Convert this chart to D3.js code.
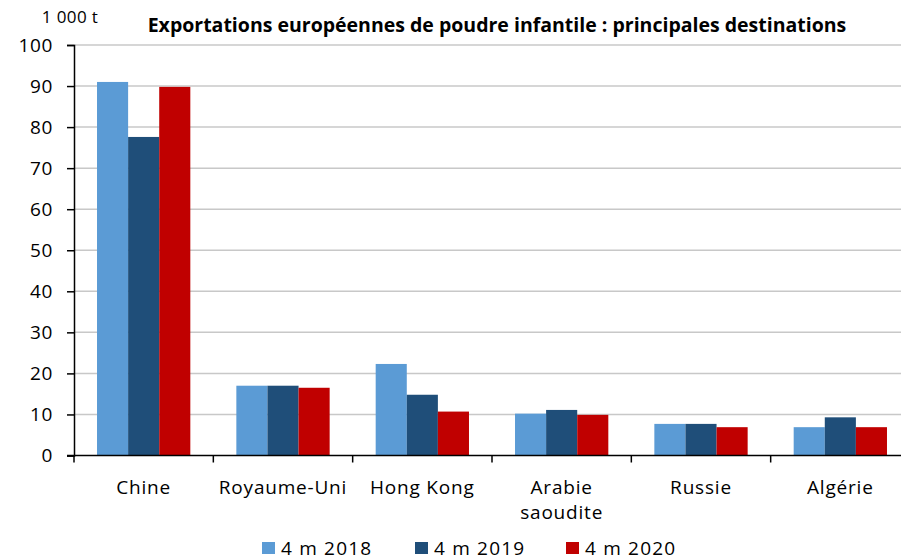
<!DOCTYPE html>
<html lang="fr">
    <head>
        <meta charset="utf-8">
        <style type="text/css">
            body { margin: 0; background: #fff; }
            text { font-family: "Open Sans", Lato, sans-serif; fill: #000; }
            .grid line { stroke: #c8c8c8; stroke-width: 1.5px; }
        </style>
    </head>
    <body>
        <svg width="901" height="558"></svg>

        <script src="https://d3js.org/d3.v7.min.js"></script>
        <script>
            var categories = [["Chine"], ["Royaume-Uni"], ["Hong Kong"], ["Arabie", "saoudite"], ["Russie"], ["Algérie"]];
            var series = ["4 m 2018", "4 m 2019", "4 m 2020"];
            var colors = ["#5b9bd5", "#1f4e79", "#c00000"];
            var values2018 = [91.0, 17.0, 22.3, 10.2, 7.7, 6.9];
            var values2019 = [77.6, 17.0, 14.8, 11.1, 7.7, 9.3];
            var values2020 = [89.8, 16.5, 10.7, 9.9, 6.9, 6.9];
            var yTicks = [0, 10, 20, 30, 40, 50, 60, 70, 80, 90, 100];

            var svg = d3.select("svg"),
                mLeft = 74, mRight = 910, mTop = 45, mBottom = 455.5;

            var data = categories.map(function (c, i) {
                return {name: c, vals: [values2018[i], values2019[i], values2020[i]]};
            });

            var x = d3.scaleBand()
                .domain(d3.range(categories.length))
                .range([mLeft, mRight]);

            var xs = d3.scaleBand()
                .domain(d3.range(series.length))
                .range([0, x.bandwidth()])
                .paddingOuter(0.74)
                .paddingInner(0);

            var y = d3.scaleLinear().domain([0, 100]).range([mBottom, mTop]);

            // gridlines
            svg.append("g").attr("class", "grid")
                .selectAll("line")
                .data(yTicks.slice(1))
                .enter().append("line")
                .attr("x1", mLeft).attr("x2", 901)
                .attr("y1", function (d) {return y(d);})
                .attr("y2", function (d) {return y(d);});

            // bars
            var groups = svg.append("g").selectAll("g")
                .data(data)
                .enter().append("g")
                .attr("transform", function (d, i) {return "translate(" + x(i) + ",0)";});

            groups.selectAll("rect")
                .data(function (d) {return d.vals;})
                .enter().append("rect")
                .attr("x", function (d, j) {return xs(j);})
                .attr("width", xs.bandwidth())
                .attr("y", function (d) {return y(d);})
                .attr("height", function (d) {return y(0) - y(d);})
                .attr("fill", function (d, j) {return colors[j];});

            // y axis
            var yAxis = svg.append("g")
                .attr("transform", "translate(" + mLeft + ",0)")
                .call(d3.axisLeft(y).tickValues(yTicks).tickSize(7).tickSizeOuter(7).tickPadding(14));
            yAxis.select(".domain").attr("stroke", "#000").attr("stroke-width", 1.5);
            yAxis.selectAll(".tick line").attr("stroke", "#000").attr("stroke-width", 1.5);
            yAxis.selectAll("text")
                .style("font-size", "19px")
                .style("letter-spacing", "0.6px")
                .style("font-family", "'Open Sans', sans-serif")
                .attr("fill", "#000");

            // x axis
            var xAxis = svg.append("g")
                .attr("transform", "translate(0," + mBottom + ")");
            xAxis.append("line")
                .attr("x1", mLeft - 7).attr("x2", 901)
                .attr("stroke", "#000").attr("stroke-width", 1.5);
            xAxis.selectAll(".xt")
                .data(d3.range(categories.length))
                .enter().append("line")
                .attr("x1", function (d) {return x(d);})
                .attr("x2", function (d) {return x(d);})
                .attr("y1", 0).attr("y2", 7)
                .attr("stroke", "#000").attr("stroke-width", 1.5);

            var labels = xAxis.selectAll(".xl")
                .data(data)
                .enter().append("text")
                .attr("text-anchor", "middle")
                .style("font-size", "19px")
                .style("letter-spacing", "0.8px")
                .attr("x", function (d, i) {return x(i) + x.bandwidth() / 2;});
            labels.selectAll("tspan")
                .data(function (d) {return d.name;})
                .enter().append("tspan")
                .attr("x", function () {return this.parentNode.getAttribute("x");})
                .attr("y", function (d, k) {return 38 + k * 25;})
                .text(function (d) {return d;});

            // unit + title
            svg.append("text")
                .attr("x", 70).attr("y", 23)
                .attr("text-anchor", "middle")
                .style("font-size", "17px")
                .style("letter-spacing", "0.4px")
                .text("1 000 t");

            svg.append("text")
                .attr("x", 497).attr("y", 32)
                .attr("text-anchor", "middle")
                .style("font-size", "19.5px")
                .style("font-weight", "bold")
                .text("Exportations européennes de poudre infantile : principales destinations");

            // legend
            var legendX = [262, 415, 566];
            var legend = svg.append("g").selectAll("g")
                .data(series)
                .enter().append("g")
                .attr("transform", function (d, i) {return "translate(" + legendX[i] + ",542)";});
            legend.append("rect")
                .attr("width", 13).attr("height", 12)
                .attr("fill", function (d, i) {return colors[i];});
            legend.append("text")
                .attr("x", 19).attr("y", 13)
                .style("font-size", "19px")
                .style("letter-spacing", "1.2px")
                .text(function (d) {return d;});
        </script>
    </body>
</html>
